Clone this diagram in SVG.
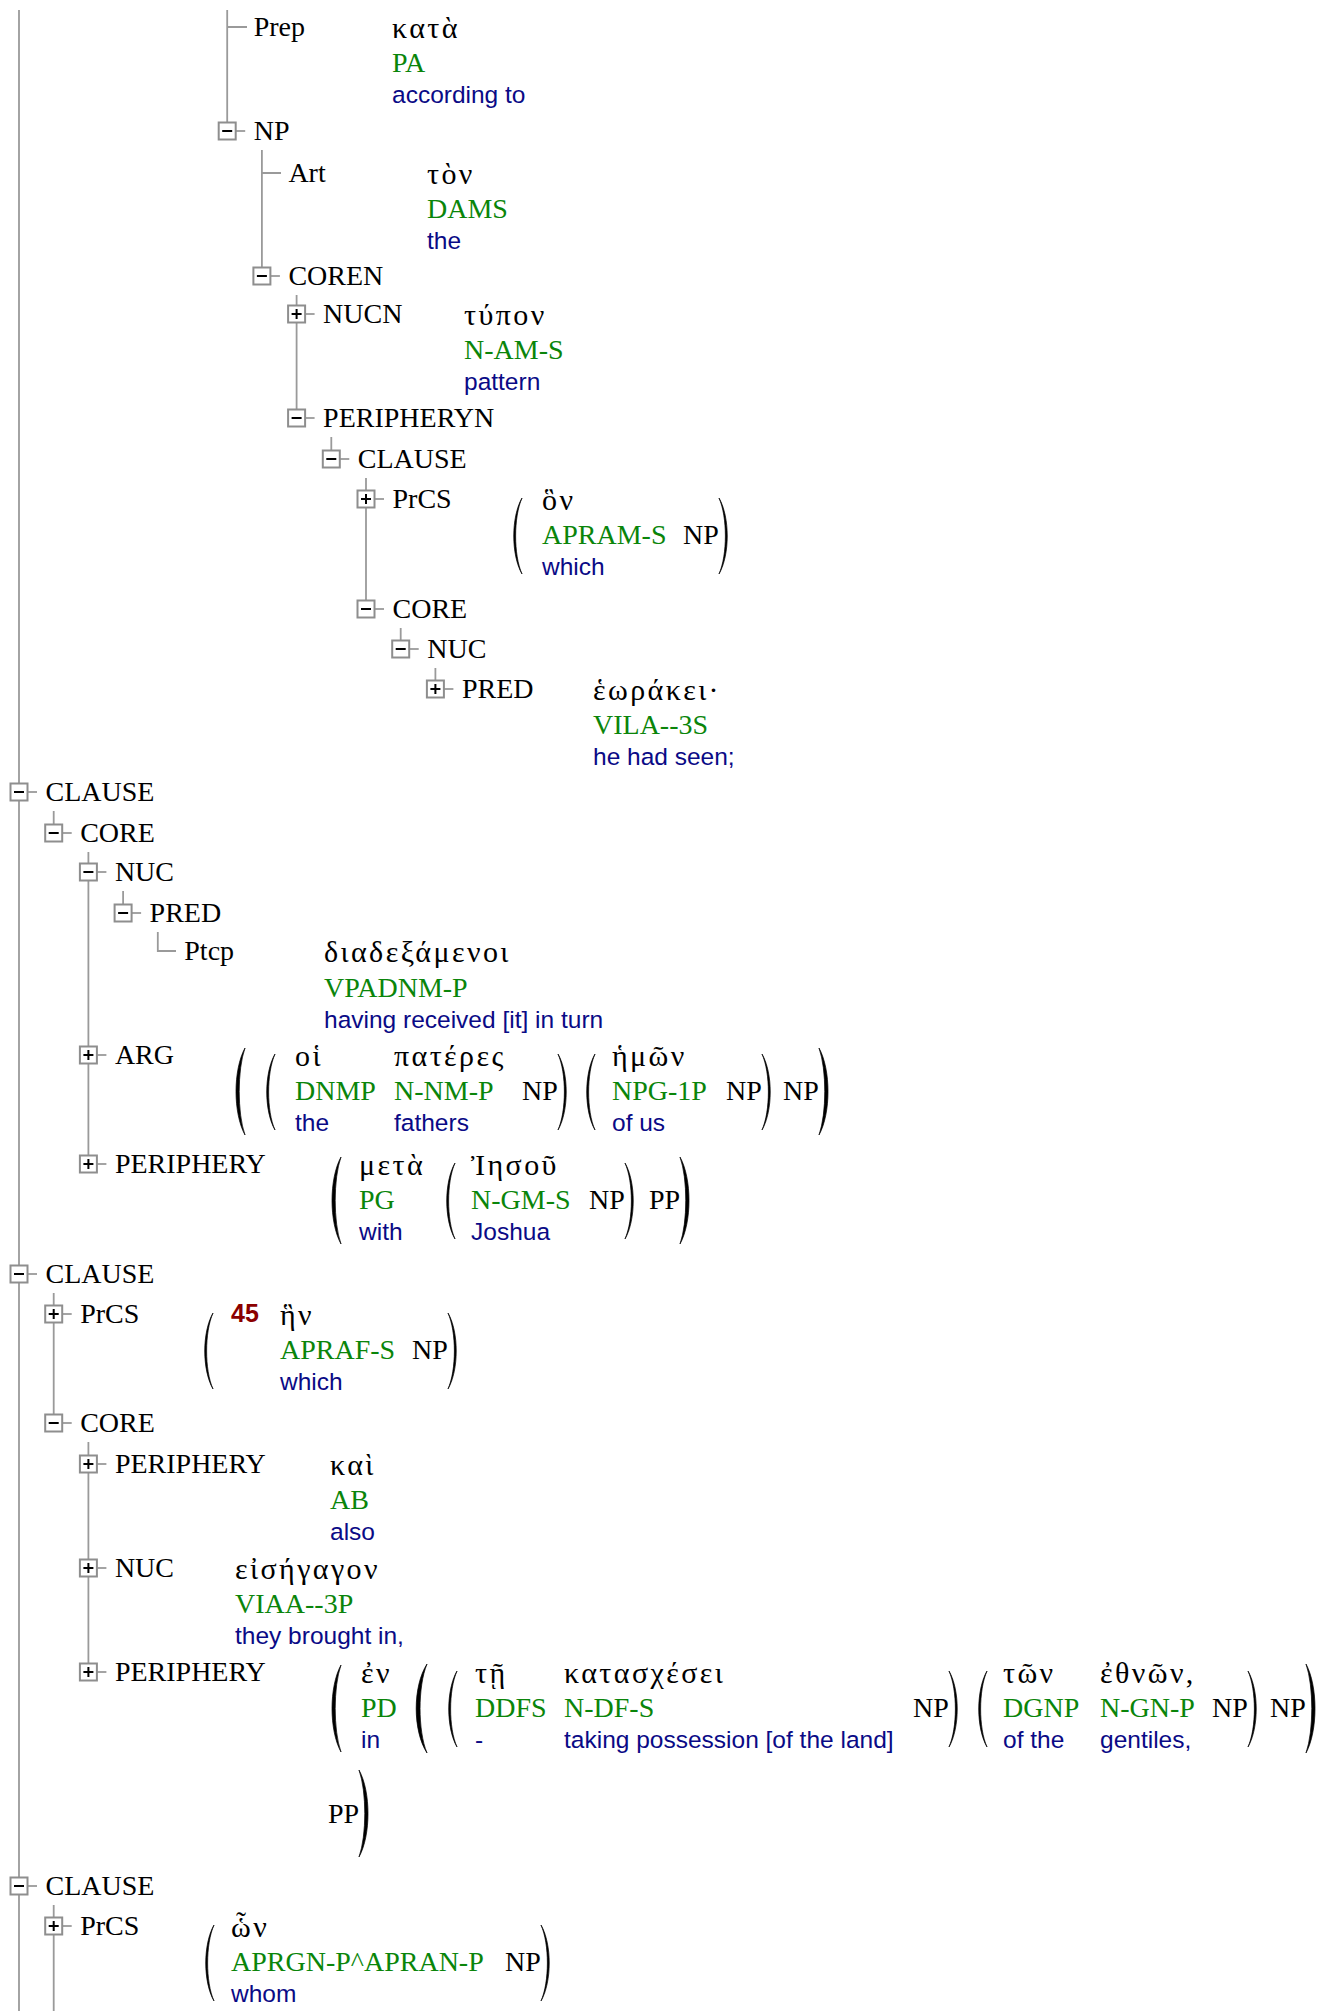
<svg xmlns="http://www.w3.org/2000/svg" xmlns:xlink="http://www.w3.org/1999/xlink" width="1317" height="2011" viewBox="0 0 1317 2011">
<style>
  .lbl{font-family:"Liberation Serif","Times New Roman",serif;font-size:28px;fill:#000}
  .gk{font-family:"Liberation Serif","DejaVu Serif",serif;font-size:30px;letter-spacing:2.4px;fill:#000}
  .tag{font-family:"Liberation Serif","Times New Roman",serif;font-size:28px;fill:#0a850a}
  .gl{font-family:"Liberation Sans",Arial,sans-serif;font-size:24.5px;fill:#0a0a86}
  .vn{font-family:"Liberation Sans",Arial,sans-serif;font-size:25px;font-weight:bold;fill:#8b0000}
  .ln{stroke:#9a9a9a;stroke-width:1.8;fill:none}
  .bx{fill:#fff;stroke:#8e8e8e;stroke-width:2}
  .sg{stroke:#000;stroke-width:2;fill:none}
  .par{fill:#000;stroke:#000;stroke-width:0.7;vector-effect:non-scaling-stroke}
</style>
<defs>
  <!-- collapse / expand toggles, centred on 0,0, with the tick towards the label -->
  <g id="bm"><path class="ln" d="M8.5 0H18"/><rect class="bx" x="-8.5" y="-8.5" width="17" height="17"/><path class="sg" d="M-5 0H5"/></g>
  <g id="bp"><path class="ln" d="M8.5 0H18"/><rect class="bx" x="-8.5" y="-8.5" width="17" height="17"/><path class="sg" d="M-5 0H5M0 -5V5"/></g>
  <!-- bracket shapes in a 10 x 100 unit box -->
  <path id="lpa" class="par" d="M10 0C-2 25 -2 75 10 100C2.3 75 2.3 25 10 0Z"/>
  <path id="lpb" class="par" d="M10 0C-1 25 -1 75 10 100C1.5 75 1.5 25 10 0Z"/>
  <path id="rpa" class="par" d="M0 0C12 25 12 75 0 100C7.7 75 7.7 25 0 0Z"/>
  <path id="rpb" class="par" d="M0 0C11 25 11 75 0 100C8.5 75 8.5 25 0 0Z"/>
</defs>
<rect width="1317" height="2011" fill="#fff"/>

<!-- tree connectors -->
<g id="connectors" class="ln">
  <path d="M19 10V2011"/>
  <path d="M227.2 10V131M227.2 27H247"/>
  <path d="M261.9 150V276M261.9 173H281"/>
  <path d="M296.6 295V418"/>
  <path d="M331.3 437V459"/>
  <path d="M366 478V609"/>
  <path d="M400.7 628V649"/>
  <path d="M435.4 668V689"/>
  <path d="M53.7 811V833"/>
  <path d="M88.4 852V1164"/>
  <path d="M123.1 891V913"/>
  <path d="M157.8 932V951H176"/>
  <path d="M53.7 1293V1423"/>
  <path d="M88.4 1442V1672"/>
  <path d="M53.7 1905V2011"/>
</g>

<!-- upper branch -->
<g id="n-prep">
  <text class="lbl" x="253.7" y="36">Prep</text>
  <text class="gk" x="392" y="38">κατὰ</text>
  <text class="tag" x="392" y="72">PA</text>
  <text class="gl" x="392" y="103">according to</text>
</g>
<g id="n-np">
  <use xlink:href="#bm" x="227.2" y="131"/>
  <text class="lbl" x="253.7" y="140">NP</text>
</g>
<g id="n-art">
  <text class="lbl" x="288.4" y="182">Art</text>
  <text class="gk" x="427" y="184">τὸν</text>
  <text class="tag" x="427" y="218">DAMS</text>
  <text class="gl" x="427" y="249">the</text>
</g>
<g id="n-coren">
  <use xlink:href="#bm" x="261.9" y="276"/>
  <text class="lbl" x="288.4" y="285">COREN</text>
</g>
<g id="n-nucn">
  <use xlink:href="#bp" x="296.6" y="314"/>
  <text class="lbl" x="323.1" y="323">NUCN</text>
  <text class="gk" x="464" y="325">τύπον</text>
  <text class="tag" x="464" y="359">N-AM-S</text>
  <text class="gl" x="464" y="390">pattern</text>
</g>
<g id="n-peripheryn">
  <use xlink:href="#bm" x="296.6" y="418"/>
  <text class="lbl" x="323.1" y="427">PERIPHERYN</text>
</g>
<g id="n-clause-rel">
  <use xlink:href="#bm" x="331.3" y="459"/>
  <text class="lbl" x="357.8" y="468">CLAUSE</text>
</g>
<g id="n-prcs-rel">
  <use xlink:href="#bp" x="366" y="499"/>
  <text class="lbl" x="392.5" y="508">PrCS</text>
  <use xlink:href="#lpb" transform="translate(512 498) scale(1 0.76)"/>
  <text class="gk" x="542" y="510">ὃν</text>
  <text class="tag" x="542" y="544">APRAM-S</text>
  <text class="lbl" x="683" y="544">NP</text>
  <text class="gl" x="542" y="575">which</text>
  <use xlink:href="#rpb" transform="translate(719 498) scale(1 0.76)"/>
</g>
<g id="n-core-rel">
  <use xlink:href="#bm" x="366" y="609"/>
  <text class="lbl" x="392.5" y="618">CORE</text>
</g>
<g id="n-nuc-rel">
  <use xlink:href="#bm" x="400.7" y="649"/>
  <text class="lbl" x="427.2" y="658">NUC</text>
</g>
<g id="n-pred-rel">
  <use xlink:href="#bp" x="435.4" y="689"/>
  <text class="lbl" x="461.9" y="698">PRED</text>
  <text class="gk" x="593" y="700">ἑωράκει·</text>
  <text class="tag" x="593" y="734">VILA--3S</text>
  <text class="gl" x="593" y="765">he had seen;</text>
</g>

<!-- clause: διαδεξάμενοι -->
<g id="n-clause-1">
  <use xlink:href="#bm" x="19" y="792"/>
  <text class="lbl" x="45.5" y="801">CLAUSE</text>
</g>
<g id="n-core-1">
  <use xlink:href="#bm" x="53.7" y="833"/>
  <text class="lbl" x="80.2" y="842">CORE</text>
</g>
<g id="n-nuc-1">
  <use xlink:href="#bm" x="88.4" y="872"/>
  <text class="lbl" x="114.9" y="881">NUC</text>
</g>
<g id="n-pred-1">
  <use xlink:href="#bm" x="123.1" y="913"/>
  <text class="lbl" x="149.6" y="922">PRED</text>
</g>
<g id="n-ptcp-1">
  <text class="lbl" x="184.3" y="960">Ptcp</text>
  <text class="gk" x="324" y="962">διαδεξάμενοι</text>
  <text class="tag" x="324" y="997">VPADNM-P</text>
  <text class="gl" x="324" y="1028">having received [it] in turn</text>
</g>
<g id="n-arg-1">
  <use xlink:href="#bp" x="88.4" y="1055"/>
  <text class="lbl" x="114.9" y="1064">ARG</text>
  <use xlink:href="#lpa" transform="translate(235 1048) scale(1 0.87)"/>
  <use xlink:href="#lpb" transform="translate(265 1054) scale(1 0.76)"/>
  <text class="gk" x="295" y="1066">οἱ</text>
  <text class="tag" x="295" y="1100">DNMP</text>
  <text class="gl" x="295" y="1131">the</text>
  <text class="gk" x="394" y="1066">πατέρες</text>
  <text class="tag" x="394" y="1100">N-NM-P</text>
  <text class="gl" x="394" y="1131">fathers</text>
  <text class="lbl" x="522" y="1100">NP</text>
  <use xlink:href="#rpb" transform="translate(558 1054) scale(1 0.76)"/>
  <use xlink:href="#lpb" transform="translate(585 1054) scale(1 0.76)"/>
  <text class="gk" x="612" y="1066">ἡμῶν</text>
  <text class="tag" x="612" y="1100">NPG-1P</text>
  <text class="gl" x="612" y="1131">of us</text>
  <text class="lbl" x="726" y="1100">NP</text>
  <use xlink:href="#rpb" transform="translate(762 1054) scale(1 0.76)"/>
  <text class="lbl" x="783" y="1100">NP</text>
  <use xlink:href="#rpa" transform="translate(819 1048) scale(1 0.87)"/>
</g>
<g id="n-periphery-1">
  <use xlink:href="#bp" x="88.4" y="1164"/>
  <text class="lbl" x="114.9" y="1173">PERIPHERY</text>
  <use xlink:href="#lpa" transform="translate(331 1157) scale(1 0.87)"/>
  <text class="gk" x="359" y="1175">μετὰ</text>
  <text class="tag" x="359" y="1209">PG</text>
  <text class="gl" x="359" y="1240">with</text>
  <use xlink:href="#lpb" transform="translate(445 1163) scale(1 0.76)"/>
  <text class="gk" x="471" y="1175">Ἰησοῦ</text>
  <text class="tag" x="471" y="1209">N-GM-S</text>
  <text class="gl" x="471" y="1240">Joshua</text>
  <text class="lbl" x="589" y="1209">NP</text>
  <use xlink:href="#rpb" transform="translate(625 1163) scale(1 0.76)"/>
  <text class="lbl" x="649" y="1209">PP</text>
  <use xlink:href="#rpa" transform="translate(680 1157) scale(1 0.87)"/>
</g>

<!-- clause: εἰσήγαγον -->
<g id="n-clause-2">
  <use xlink:href="#bm" x="19" y="1274"/>
  <text class="lbl" x="45.5" y="1283">CLAUSE</text>
</g>
<g id="n-prcs-2">
  <use xlink:href="#bp" x="53.7" y="1314"/>
  <text class="lbl" x="80.2" y="1323">PrCS</text>
  <use xlink:href="#lpb" transform="translate(203 1313) scale(1 0.76)"/>
  <text class="vn" x="231" y="1322">45</text>
  <text class="gk" x="280" y="1325">ἣν</text>
  <text class="tag" x="280" y="1359">APRAF-S</text>
  <text class="lbl" x="412" y="1359">NP</text>
  <text class="gl" x="280" y="1390">which</text>
  <use xlink:href="#rpb" transform="translate(448 1313) scale(1 0.76)"/>
</g>
<g id="n-core-2">
  <use xlink:href="#bm" x="53.7" y="1423"/>
  <text class="lbl" x="80.2" y="1432">CORE</text>
</g>
<g id="n-periphery-2a">
  <use xlink:href="#bp" x="88.4" y="1464"/>
  <text class="lbl" x="114.9" y="1473">PERIPHERY</text>
  <text class="gk" x="330" y="1475">καὶ</text>
  <text class="tag" x="330" y="1509">AB</text>
  <text class="gl" x="330" y="1540">also</text>
</g>
<g id="n-nuc-2">
  <use xlink:href="#bp" x="88.4" y="1568"/>
  <text class="lbl" x="114.9" y="1577">NUC</text>
  <text class="gk" x="235" y="1579">εἰσήγαγον</text>
  <text class="tag" x="235" y="1613">VIAA--3P</text>
  <text class="gl" x="235" y="1644">they brought in,</text>
</g>
<g id="n-periphery-2b">
  <use xlink:href="#bp" x="88.4" y="1672"/>
  <text class="lbl" x="114.9" y="1681">PERIPHERY</text>
  <use xlink:href="#lpa" transform="translate(331 1665) scale(1 0.87)"/>
  <text class="gk" x="361" y="1683">ἐν</text>
  <text class="tag" x="361" y="1717">PD</text>
  <text class="gl" x="361" y="1748">in</text>
  <use xlink:href="#lpa" transform="translate(415 1664) scale(1.2 0.89)"/>
  <use xlink:href="#lpb" transform="translate(447 1671) scale(1 0.76)"/>
  <text class="gk" x="475" y="1683">τῇ</text>
  <text class="tag" x="475" y="1717">DDFS</text>
  <text class="gl" x="475" y="1748">-</text>
  <text class="gk" x="564" y="1683">κατασχέσει</text>
  <text class="tag" x="564" y="1717">N-DF-S</text>
  <text class="gl" x="564" y="1748">taking possession [of the land]</text>
  <text class="lbl" x="913" y="1717">NP</text>
  <use xlink:href="#rpb" transform="translate(949 1671) scale(1 0.76)"/>
  <use xlink:href="#lpb" transform="translate(977 1671) scale(1 0.76)"/>
  <text class="gk" x="1003" y="1683">τῶν</text>
  <text class="tag" x="1003" y="1717">DGNP</text>
  <text class="gl" x="1003" y="1748">of the</text>
  <text class="gk" x="1100" y="1683">ἐθνῶν,</text>
  <text class="tag" x="1100" y="1717">N-GN-P</text>
  <text class="gl" x="1100" y="1748">gentiles,</text>
  <text class="lbl" x="1212" y="1717">NP</text>
  <use xlink:href="#rpb" transform="translate(1248 1671) scale(1 0.76)"/>
  <text class="lbl" x="1270" y="1717">NP</text>
  <use xlink:href="#rpa" transform="translate(1306 1664) scale(1 0.89)"/>
  <text class="lbl" x="328" y="1823">PP</text>
  <use xlink:href="#rpa" transform="translate(359 1770) scale(1 0.87)"/>
</g>

<!-- clause: ὧν -->
<g id="n-clause-3">
  <use xlink:href="#bm" x="19" y="1886"/>
  <text class="lbl" x="45.5" y="1895">CLAUSE</text>
</g>
<g id="n-prcs-3">
  <use xlink:href="#bp" x="53.7" y="1926"/>
  <text class="lbl" x="80.2" y="1935">PrCS</text>
  <use xlink:href="#lpb" transform="translate(204 1925) scale(1 0.76)"/>
  <text class="gk" x="231" y="1937">ὧν</text>
  <text class="tag" x="231" y="1971">APRGN-P^APRAN-P</text>
  <text class="lbl" x="505" y="1971">NP</text>
  <text class="gl" x="231" y="2002">whom</text>
  <use xlink:href="#rpb" transform="translate(541 1925) scale(1 0.76)"/>
</g>
</svg>
